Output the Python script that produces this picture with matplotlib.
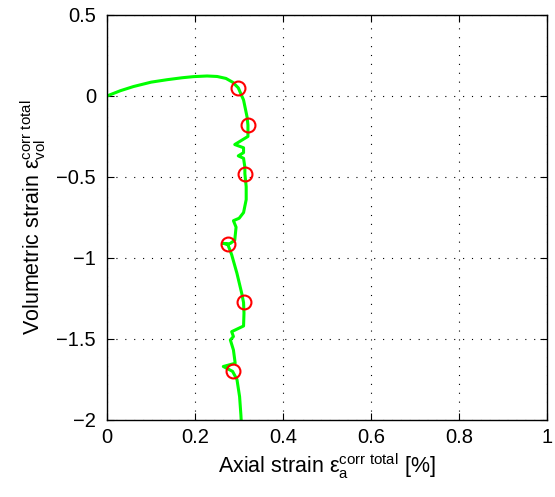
import matplotlib.pyplot as plt

plt.rcParams['font.family'] = ['Liberation Sans', 'DejaVu Sans']
plt.rcParams['mathtext.fontset'] = 'custom'
plt.rcParams['mathtext.rm'] = 'Liberation Sans'
plt.rcParams['mathtext.it'] = 'Liberation Sans:italic'

# strain path
axial = [0.0, 0.03, 0.06, 0.1, 0.136, 0.17, 0.196, 0.227, 0.25, 0.27, 0.285,
         0.298, 0.31, 0.318, 0.32,
         0.32, 0.29, 0.31, 0.31, 0.298, 0.31, 0.313, 0.313, 0.316, 0.316, 0.31,
         0.30, 0.287, 0.293, 0.29, 0.28, 0.274, 0.264, 0.274, 0.283, 0.295,
         0.306, 0.31, 0.311, 0.31, 0.283, 0.287, 0.28, 0.287, 0.291, 0.264,
         0.285, 0.295, 0.301, 0.304, 0.305]
vol = [0.0, 0.032, 0.058, 0.085, 0.10, 0.112, 0.119, 0.123, 0.12, 0.108, 0.085,
       0.05, -0.025, -0.13, -0.18,
       -0.25, -0.30, -0.32, -0.35, -0.37, -0.385, -0.44, -0.48, -0.56, -0.64,
       -0.72, -0.755, -0.77, -0.81, -0.89, -0.91, -0.915, -0.91, -0.915, -0.98,
       -1.095, -1.22, -1.275, -1.34, -1.42, -1.455, -1.485, -1.506, -1.568,
       -1.65, -1.67, -1.70, -1.75, -1.856, -1.97, -2.02]

# marked points
mark_x = [0.298, 0.32, 0.313, 0.274, 0.31, 0.285]
mark_y = [0.05, -0.18, -0.48, -0.915, -1.275, -1.70]

fig = plt.figure(figsize=(5.55, 4.97), dpi=100)
ax = fig.add_axes([0.193, 0.155, 0.793, 0.815])

ax.plot(axial, vol, color='#00ff00', lw=2.2)
ax.plot(mark_x, mark_y, 'o', ms=10, mfc='none', mec='red', mew=1.5)

ax.set_xlim(0, 1)
ax.set_ylim(-2, 0.5)
ax.set_xticks([0, 0.2, 0.4, 0.6, 0.8, 1])
ax.set_xticklabels(['0', '0.2', '0.4', '0.6', '0.8', '1'])
ax.set_yticks([-2, -1.5, -1, -0.5, 0, 0.5])
ax.set_yticklabels(['\u22122', '\u22121.5', '\u22121', '\u22120.5', '0', '0.5'])
ax.grid(True, color='black', linestyle=(0, (1, 7)), lw=0.8)
ax.tick_params(direction='in', top=True, right=True, labelsize=14.5, length=5)
ax.tick_params(axis='y', pad=8)
ax.tick_params(axis='x', pad=6)
for s in ax.spines.values():
    s.set_linewidth(1)

ax.set_xlabel(r'Axial strain $\mathrm{ε}_{\mathrm{a}}^{\mathrm{corr\ total}}$ [%]', fontsize=15.5, labelpad=3)
ax.set_ylabel(r'Volumetric strain $\mathrm{ε}_{\mathrm{vol}}^{\mathrm{corr\ total}}$', fontsize=15.5, labelpad=6)

fig.savefig('out.png', dpi=100)
